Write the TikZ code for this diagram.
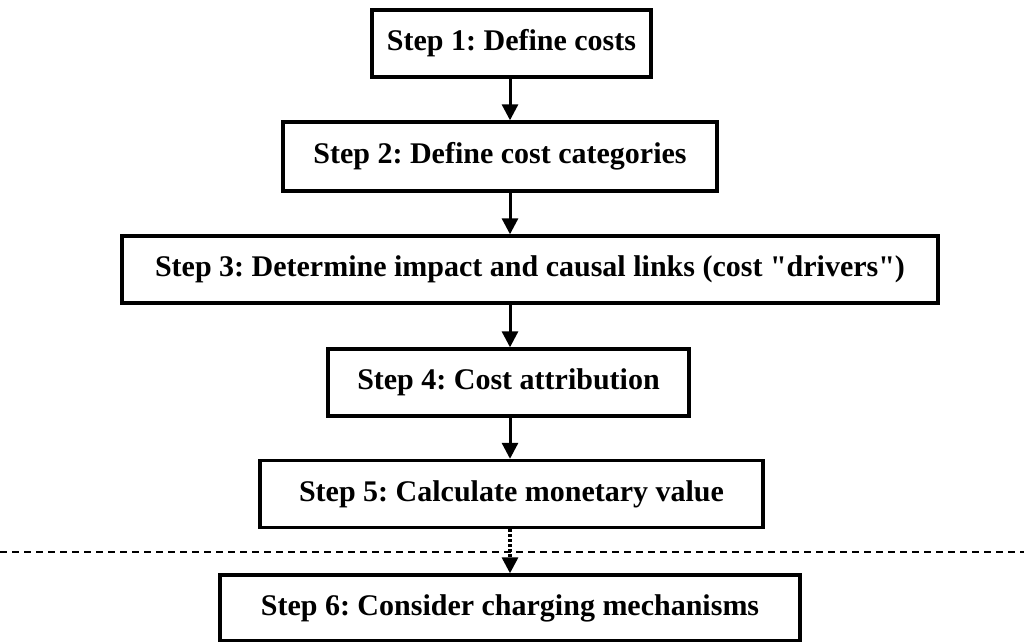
\documentclass[tikz,border=0pt]{standalone}
\usepackage{fontspec}
\setmainfont{Liberation Serif}
\newfontfamily\rawserif{Liberation Serif}
\newcommand{\sq}{{\rawserif\bfseries"}}
\usetikzlibrary{arrows.meta}
\frenchspacing
\begin{document}
\begin{tikzpicture}[x=1pt,y=-1pt,
  stepbox/.style={draw, line width=3.4pt, inner sep=0pt, font=\fontsize{30}{34}\selectfont\bfseries, minimum height=67pt},
  arr/.style={line width=3pt, -{Triangle[width=16pt,length=16pt]}},
  darr/.style={line width=3.2pt, dash pattern=on 2.5pt off 2.5pt, -{Triangle[width=16pt,length=16pt]}},
  sep/.style={line width=1.4pt, dash pattern=on 7pt off 5pt}]
\useasboundingbox (0,0) rectangle (1024,641);
\node[stepbox, minimum width=279pt] (b1) at (511.5,43.5) {\frenchspacing Step 1: Define costs};
\node[stepbox, minimum width=434pt, minimum height=69pt] (b2) at (500,156.5) {\frenchspacing Step 2: Define cost categories};
\node[stepbox, minimum width=816pt] (b3) at (530,269.5) {\frenchspacing Step 3: Determine impact and causal links (cost \sq drivers\sq)};
\node[stepbox, minimum width=361pt] (b4) at (508.5,382.5) {\frenchspacing Step 4: Cost attribution};
\node[stepbox, minimum width=503pt] (b5) at (511.5,494) {\frenchspacing Step 5: Calculate monetary value};
\node[stepbox, minimum width=580pt, minimum height=66pt] (b6) at (510,608) {\frenchspacing Step 6: Consider charging mechanisms};
\coordinate (dl) at (0,552);
\coordinate (dr) at (1024,552);
\draw[sep] (dl) -- (dr);
\draw[arr] (b1.south -| 510,0) -- (b2.north -| 510,0);
\draw[arr] (b2.south -| 510,0) -- (b3.north -| 510,0);
\draw[arr] (b3.south -| 510,0) -- (b4.north -| 510,0);
\draw[arr] (b4.south -| 510,0) -- (b5.north -| 510,0);
\draw[darr] (b5.south -| 510,0) -- (b6.north -| 510,0);
\end{tikzpicture}
\end{document}
